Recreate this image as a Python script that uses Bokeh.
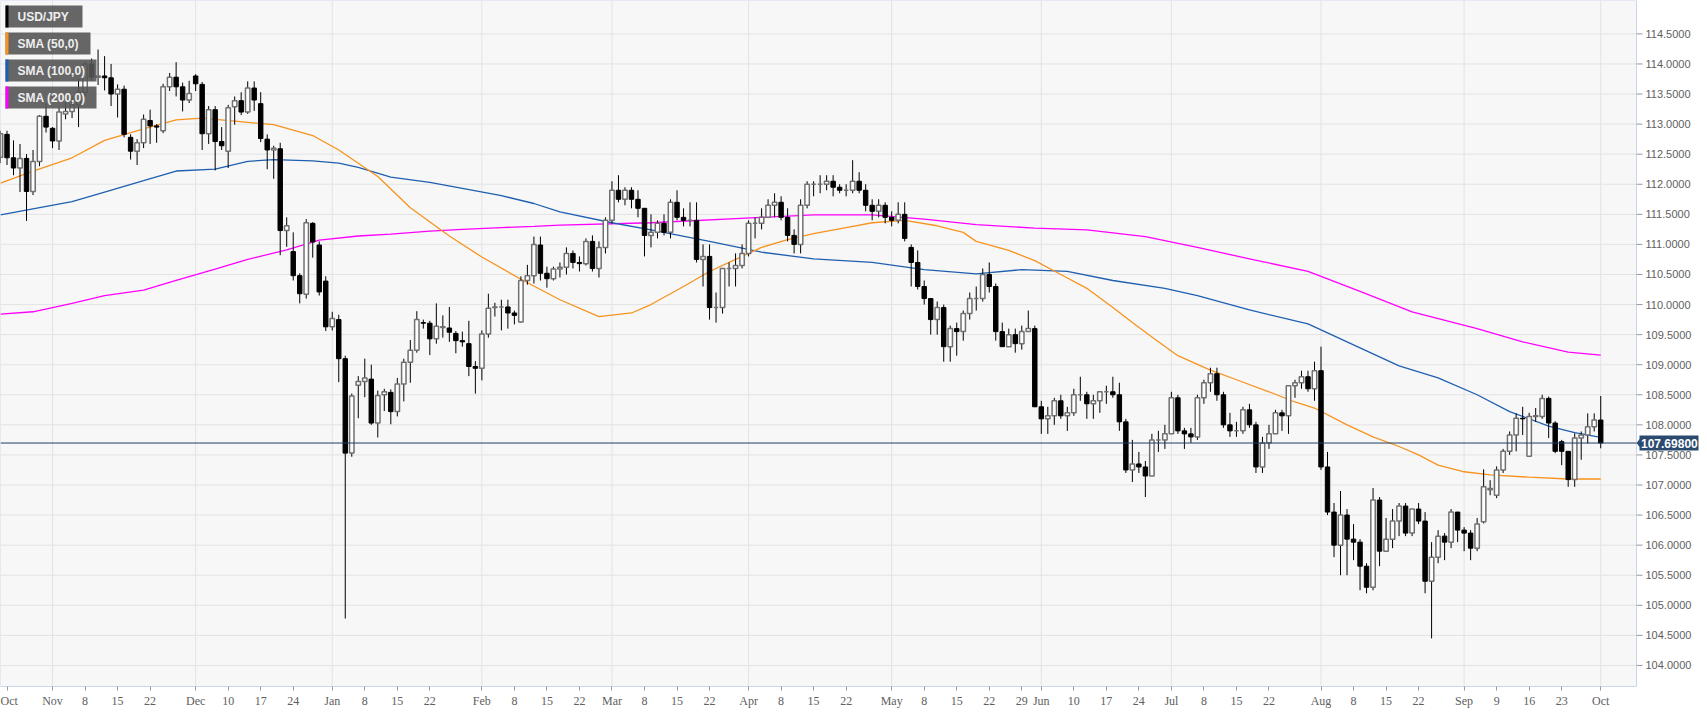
import pandas as pd
from bokeh.plotting import figure
from bokeh.models import ColumnDataSource, FixedTicker, BoxAnnotation, Label, Range1d
from bokeh.core.properties import value
from bokeh.embed import file_html
from bokeh.resources import INLINE

# ---------------- data ----------------
dates = pd.bdate_range("2018-10-22", "2019-10-01")

opens = [112.45,112.83,112.44,112.27,112.43,111.88,112.38,113.13,112.93,112.72,113.17,113.21,113.32,113.53,114.00,113.78,113.80,113.77,113.50,113.58,
112.78,112.55,112.69,113.06,112.97,112.89,113.62,113.78,113.62,113.40,113.80,113.66,112.84,113.24,112.71,112.55,113.29,113.39,113.20,113.60,
113.34,112.75,112.57,112.59,111.23,110.88,110.48,110.17,111.35,110.99,110.39,109.63,109.75,109.10,107.53,108.66,108.72,108.76,108.03,108.50,
108.54,108.22,108.68,109.04,109.24,109.70,109.69,109.43,109.62,109.61,109.52,109.40,109.35,108.97,108.94,109.51,109.95,109.96,109.96,109.86,
109.71,110.40,110.48,110.99,110.52,110.43,110.59,110.62,110.85,110.70,110.68,111.05,110.60,110.95,111.40,111.90,111.75,111.90,111.75,111.60,
111.15,111.20,111.35,111.20,111.70,111.45,111.40,111.40,110.75,110.80,109.95,109.95,110.60,110.60,110.65,110.85,111.35,111.35,111.45,111.65,
111.70,111.45,111.15,111.00,111.65,112.00,112.00,112.00,112.05,111.95,111.90,111.90,112.05,111.90,111.65,111.55,111.65,111.45,111.40,111.50,
110.95,110.70,110.30,110.10,109.75,109.95,109.30,109.60,109.55,109.85,110.10,110.10,110.50,110.30,109.55,109.30,109.50,109.35,109.55,109.60,
108.30,108.10,108.15,108.40,108.15,108.20,108.50,108.50,108.35,108.40,108.55,108.55,108.50,108.05,107.25,107.35,107.30,107.15,107.75,107.75,
107.85,108.45,107.90,107.85,107.80,108.45,108.70,108.85,108.50,108.00,107.90,107.90,108.25,108.00,107.30,107.70,107.85,108.20,108.15,108.65,
108.70,108.80,108.60,108.90,107.30,106.55,106.00,106.50,106.10,106.05,105.65,105.30,106.75,105.90,106.10,106.40,106.65,106.20,106.60,106.40,
105.40,105.80,106.15,106.05,106.55,106.25,106.20,105.95,106.39,106.92,106.83,107.25,107.56,107.83,108.11,107.48,108.14,108.14,108.44,108.03,
107.72,107.56,107.09,107.78,107.83,107.97,108.08]

highs = [112.89,112.89,112.73,112.67,112.50,112.57,113.15,113.34,112.95,113.27,113.37,113.46,113.75,114.04,114.09,114.24,114.13,114.00,113.66,113.64,
112.83,112.75,113.16,113.24,113.00,113.67,113.85,114.03,113.69,113.72,113.83,113.70,113.30,113.30,112.95,113.32,113.46,113.53,113.71,113.71,
113.53,112.83,112.64,112.69,111.45,111.20,110.52,111.42,111.37,111.05,110.47,109.88,109.83,109.15,108.52,108.81,109.10,109.00,108.57,108.60,
108.59,108.78,109.10,109.41,109.89,109.75,109.73,110.02,109.82,109.96,109.56,109.55,109.73,109.06,109.57,110.18,110.03,110.08,110.08,109.90,
110.47,110.66,111.13,111.13,110.63,110.63,110.70,110.95,110.90,110.80,111.10,111.15,111.05,111.45,112.05,112.15,111.95,111.95,111.90,111.60,
111.50,111.40,111.50,111.75,111.90,111.60,111.70,111.70,111.00,111.00,110.20,110.60,110.70,110.85,111.00,111.40,111.45,111.60,111.75,111.85,
111.80,111.60,111.25,111.75,112.05,112.05,112.15,112.15,112.15,112.00,112.00,112.40,112.20,112.00,111.75,111.75,111.70,111.55,111.70,111.70,
111.00,110.90,110.40,110.10,110.05,110.00,109.65,109.70,109.90,110.20,110.30,110.60,110.70,110.35,109.70,109.60,109.60,109.65,109.90,109.65,
108.40,108.30,108.45,108.50,108.30,108.60,108.80,108.55,108.50,108.55,108.65,108.80,108.70,108.10,107.75,107.55,107.40,107.85,107.90,108.00,
108.55,108.50,107.95,107.95,108.50,108.75,108.95,108.95,108.55,108.20,108.05,108.30,108.35,108.05,107.80,108.00,108.25,108.25,108.65,108.75,
108.90,108.90,109.05,109.30,107.55,106.70,106.90,106.60,106.35,106.10,105.70,106.95,106.80,106.45,106.60,106.70,106.70,106.60,106.70,106.55,
106.05,106.25,106.20,106.60,106.55,106.30,106.25,106.45,107.26,107.08,107.31,107.60,107.89,108.19,108.30,108.20,108.28,108.50,108.47,108.06,
107.75,107.56,107.86,107.89,108.19,108.19,108.48]

lows = [112.35,112.32,112.15,111.87,111.39,111.82,112.30,112.86,112.60,112.57,113.08,113.10,112.95,113.45,113.72,113.65,113.56,113.30,113.11,112.78,
112.41,112.32,112.60,112.67,112.69,112.85,113.55,113.46,113.21,113.35,113.55,112.57,112.67,112.23,112.57,112.27,112.99,113.15,113.17,113.22,
112.70,112.25,112.09,110.82,110.96,110.40,110.02,110.10,110.78,110.15,109.56,109.57,108.71,104.78,107.47,108.11,108.46,108.00,107.79,108.23,
108.01,108.14,108.39,108.70,109.20,109.60,109.16,109.35,109.45,109.38,109.19,109.30,108.81,108.52,108.74,109.45,109.80,109.57,109.60,109.67,
109.70,110.33,110.35,110.40,110.28,110.40,110.45,110.50,110.60,110.55,110.65,110.55,110.45,110.85,111.35,111.70,111.65,111.60,111.45,110.80,
110.95,111.10,111.15,111.10,111.40,111.30,111.30,110.70,110.30,109.75,109.70,109.85,110.30,110.30,110.60,110.80,111.10,111.25,111.45,111.45,
111.40,111.05,110.85,110.85,111.60,111.80,111.85,111.90,111.80,111.85,111.80,111.85,111.85,111.55,111.40,111.45,111.35,111.30,111.35,111.05,
110.30,110.25,110.00,109.50,109.50,109.05,109.05,109.15,109.40,109.75,109.90,110.05,110.20,109.40,109.30,109.30,109.20,109.25,109.55,108.30,
107.85,107.85,108.00,108.10,107.90,108.15,108.40,108.10,108.10,108.20,108.35,108.45,107.90,107.20,107.05,107.20,106.80,107.15,107.55,107.60,
107.85,107.85,107.60,107.70,107.75,108.35,108.55,108.40,107.95,107.80,107.80,107.85,107.95,107.20,107.20,107.60,107.85,107.90,107.85,108.45,
108.60,108.55,108.40,107.25,106.50,105.80,105.50,105.50,105.75,105.25,105.20,105.25,105.65,105.90,105.95,106.15,106.15,106.15,106.35,105.20,
104.45,105.70,105.75,105.95,106.05,105.90,105.75,105.90,106.36,106.83,106.78,107.20,107.50,107.56,107.83,107.47,108.05,108.10,107.78,107.53,
107.33,106.97,106.97,107.42,107.69,107.89,107.61]

closes = [112.84,112.44,112.27,112.43,111.88,112.38,113.13,112.95,112.72,113.20,113.21,113.32,113.53,114.00,113.78,113.80,113.77,113.50,113.58,112.83,
112.55,112.69,113.08,112.97,112.95,113.62,113.78,113.62,113.40,113.51,113.67,112.84,113.24,112.71,112.64,113.27,113.39,113.20,113.60,113.40,
112.76,112.57,112.60,111.23,111.31,110.48,110.18,111.36,111.04,110.21,109.63,109.77,109.10,107.53,108.48,108.72,108.78,108.03,108.49,108.55,
108.22,108.68,109.04,109.24,109.75,109.69,109.43,109.64,109.63,109.54,109.40,109.38,108.97,108.94,109.51,109.94,109.96,109.96,109.86,109.82,
110.40,110.48,111.00,110.52,110.43,110.59,110.62,110.85,110.70,110.68,111.05,110.60,110.95,111.40,111.90,111.75,111.90,111.75,111.60,111.15,
111.20,111.35,111.20,111.70,111.45,111.40,111.40,110.75,110.80,109.95,109.95,110.60,110.60,110.65,110.85,111.35,111.35,111.45,111.65,111.70,
111.45,111.15,111.00,111.65,112.00,112.00,112.00,112.05,111.95,111.90,111.90,112.05,111.90,111.65,111.55,111.65,111.45,111.40,111.50,111.10,
110.70,110.30,110.10,109.75,109.95,109.30,109.60,109.55,109.85,110.10,110.10,110.50,110.30,109.55,109.30,109.50,109.35,109.55,109.60,108.30,
108.10,108.15,108.40,108.15,108.20,108.50,108.50,108.35,108.40,108.55,108.55,108.50,108.05,107.25,107.35,107.30,107.15,107.75,107.75,107.85,
108.45,107.90,107.85,107.80,108.45,108.70,108.85,108.50,108.00,107.90,107.90,108.25,108.00,107.30,107.70,107.85,108.20,108.15,108.65,108.70,
108.80,108.60,108.90,107.30,106.55,106.00,106.50,106.10,106.05,105.65,105.30,106.75,105.90,106.10,106.40,106.65,106.20,106.60,106.40,105.40,
105.80,106.15,106.05,106.55,106.25,106.20,105.95,106.35,106.97,106.94,107.25,107.56,107.83,108.11,108.10,108.14,108.15,108.44,108.03,107.56,
107.56,107.09,107.78,107.83,107.97,108.08,107.698]

sma50_idx = [0,5,11,16,22,27,31,36,42,48,52,58,63,69,74,80,86,92,97,100,105,109,113,117,121,125,130,134,139,144,148,150,155,159,163,167,171,174,177,181,186,190,195,199,202,207,211,215,218,221,225,229,235,241,246]
sma50_val = [112.02,112.22,112.44,112.73,112.92,113.07,113.10,113.05,112.99,112.81,112.57,112.13,111.61,111.14,110.79,110.42,110.08,109.80,109.86,110.00,110.30,110.55,110.75,110.95,111.08,111.18,111.28,111.36,111.40,111.31,111.20,111.05,110.90,110.73,110.50,110.27,109.95,109.70,109.46,109.15,108.91,108.75,108.55,108.38,108.28,108.00,107.80,107.64,107.50,107.33,107.22,107.17,107.13,107.10,107.10]

sma100_idx = [0,11,16,22,27,33,38,42,48,52,55,60,66,71,77,82,86,94,100,109,117,125,134,142,150,157,164,171,179,184,192,201,209,215,221,227,232,238,242,246]
sma100_val = [111.49,111.71,111.87,112.06,112.22,112.25,112.38,112.41,112.39,112.35,112.28,112.12,112.03,111.93,111.81,111.68,111.54,111.36,111.24,111.05,110.87,110.76,110.70,110.58,110.51,110.58,110.55,110.40,110.27,110.15,109.91,109.68,109.28,108.98,108.78,108.50,108.22,107.98,107.87,107.79]

sma200_idx = [0,5,11,16,22,27,33,38,44,49,55,60,66,71,77,82,86,100,117,125,134,142,150,159,167,176,184,192,201,209,217,227,234,241,246]
sma200_val = [109.84,109.88,110.02,110.15,110.24,110.40,110.59,110.75,110.91,111.07,111.14,111.17,111.22,111.25,111.28,111.30,111.32,111.36,111.45,111.49,111.49,111.42,111.33,111.27,111.24,111.13,110.95,110.76,110.55,110.22,109.88,109.60,109.38,109.21,109.16]

last_price = 107.698

tick_dates = ["2018-10-23","2018-11-01","2018-11-08","2018-11-15","2018-11-22","2018-12-03","2018-12-10","2018-12-17","2018-12-24",
              "2019-01-01","2019-01-08","2019-01-15","2019-01-22","2019-02-01","2019-02-08","2019-02-15","2019-02-22",
              "2019-03-01","2019-03-08","2019-03-15","2019-03-22","2019-04-01","2019-04-08","2019-04-15","2019-04-22",
              "2019-05-01","2019-05-08","2019-05-15","2019-05-22","2019-05-29","2019-06-03","2019-06-10","2019-06-17","2019-06-24",
              "2019-07-01","2019-07-08","2019-07-15","2019-07-22","2019-08-01","2019-08-08","2019-08-15","2019-08-22",
              "2019-09-02","2019-09-09","2019-09-16","2019-09-23","2019-10-01"]
tick_labels = ["Oct","Nov","8","15","22","Dec","10","17","24","Jan","8","15","22","Feb","8","15","22","Mar","8","15","22",
               "Apr","8","15","22","May","8","15","22","29","Jun","10","17","24","Jul","8","15","22","Aug","8","15","22",
               "Sep","9","16","23","Oct"]
month_dates = ["2018-11-01","2018-12-03","2019-01-01","2019-02-01","2019-03-01","2019-04-01","2019-05-01","2019-06-03",
               "2019-07-01","2019-08-01","2019-09-02","2019-10-01"]
y_ticks = [104.0,104.5,105.0,105.5,106.0,106.5,107.0,107.5,108.0,108.5,109.0,109.5,110.0,110.5,111.0,111.5,112.0,112.5,113.0,113.5,114.0,114.5]

legend_names = ["USD/JPY", "SMA (50,0)", "SMA (100,0)", "SMA (200,0)"]
legend_colors = ["#000000", "#f7931e", "#1f5fb0", "#ff00ff"]

# ---------------- build ----------------
n = len(dates)
assert len(opens) == len(highs) == len(lows) == len(closes) == n
pos = {d.strftime("%Y-%m-%d"): i for i, d in enumerate(dates)}
idx = list(range(n))

up = [c >= o for o, c in zip(opens, closes)]
src_up = ColumnDataSource(dict(
    x=[i for i in idx if up[i]],
    top=[max(opens[i], closes[i]) for i in idx if up[i]],
    bottom=[min(opens[i], closes[i]) for i in idx if up[i]]))
src_dn = ColumnDataSource(dict(
    x=[i for i in idx if not up[i]],
    top=[max(opens[i], closes[i]) for i in idx if not up[i]],
    bottom=[min(opens[i], closes[i]) for i in idx if not up[i]]))
src_wick = ColumnDataSource(dict(x=idx, high=highs, low=lows))

# geometry: the plot area is PW px wide inside a frame that also holds the price scale
PW, FW, FH = 1636, 1707, 686
x0, xe = 0.0, 251.5            # visible index range of the plot area
sx = PW / (xe - x0)            # px per index
x1 = x0 + FW / sx
y0, y1 = 103.65, 115.055
sy = FH / (y1 - y0)            # px per price unit

p = figure(frame_width=FW, frame_height=FH, output_backend="svg", toolbar_location=None,
           x_range=Range1d(x0, x1), y_range=Range1d(y0, y1), y_axis_location=None,
           min_border_left=0, min_border_top=0, min_border_right=0, min_border_bottom=26)
p.background_fill_color = "#ffffff"
p.border_fill_color = "#ffffff"
p.outline_line_color = None
p.xgrid.visible = False
p.ygrid.visible = False

# plot area background + border
p.quad(left=[x0], right=[xe], bottom=[y0], top=[y1], fill_color="#f7f7f7",
       line_color="#ccd6eb", line_width=1)

# grid lines
mx = [pos[d] for d in month_dates]
p.segment(x0=mx, x1=mx, y0=[y0] * len(mx), y1=[y1] * len(mx), line_color="#e3e3e3", line_width=1)
p.segment(x0=[x0] * len(y_ticks), x1=[xe] * len(y_ticks), y0=y_ticks, y1=y_ticks,
          line_color="#e3e3e3", line_width=1)

# x axis
p.xaxis.bounds = (x0, xe)
p.xaxis.ticker = FixedTicker(ticks=[pos[d] for d in tick_dates])
p.xaxis.major_label_overrides = {pos[d]: l for d, l in zip(tick_dates, tick_labels)}
ax = p.xaxis[0]
ax.axis_line_color = "#ccd6eb"
ax.major_tick_line_color = "#999999"
ax.major_tick_out = 4
ax.major_tick_in = 0
ax.minor_tick_line_color = None
ax.major_label_text_color = "#606060"
ax.major_label_text_font = "Liberation Sans Narrow"
ax.major_label_text_font_size = "12px"
ax.major_label_standoff = 3

# price scale on the right
p.segment(x0=[xe] * len(y_ticks), x1=[xe + 6 / sx] * len(y_ticks), y0=y_ticks, y1=y_ticks,
          line_color="#999999", line_width=1)
p.text(x=[xe + 9 / sx] * len(y_ticks), y=y_ticks, text=["%.4f" % v for v in y_ticks],
       text_font=value("Liberation Sans"), text_font_size="11px", text_color="#606060",
       text_baseline="middle", text_align="left")

# SMA lines
p.line(sma200_idx, sma200_val, line_color="#ff00ff", line_width=1.3)
p.line(sma100_idx, sma100_val, line_color="#1f5fb0", line_width=1.3)
p.line(sma50_idx, sma50_val, line_color="#f7931e", line_width=1.3)

# candles
p.segment(x0="x", y0="high", x1="x", y1="low", source=src_wick, line_color="#000000", line_width=1)
p.vbar(x="x", top="top", bottom="bottom", width=0.68, source=src_up,
       fill_color="#ffffff", line_color="#707070", line_width=1.5)
p.vbar(x="x", top="top", bottom="bottom", width=0.68, source=src_dn,
       fill_color="#000000", line_color="#000000", line_width=1)

# last price line and tag
p.segment(x0=[x0], x1=[xe], y0=[last_price], y1=[last_price], line_color="#1f3d66", line_width=1)
p.patch(x=[xe, xe + 4 / sx, xe + 4 / sx], y=[last_price, last_price + 5 / sy, last_price - 5 / sy],
        fill_color="#2b4a70", line_color=None)
p.quad(left=[xe + 3 / sx], right=[xe + 62 / sx], bottom=[last_price - 7.5 / sy], top=[last_price + 7.5 / sy],
       fill_color="#2b4a70", line_color=None)
p.text(x=[xe + 4.5 / sx], y=[last_price], text=["%.5f" % last_price], text_font=value("Liberation Sans"),
       text_font_size="12px", text_font_style="bold", text_color="#ffffff",
       text_baseline="middle", text_align="left")

# legend boxes (pixel offsets from the frame's top-left converted to data units)
def px_x(px):
    return x0 + px / sx

def px_y(py):
    return y1 - py / sy

box_w = [77, 85, 91, 91]
for k, (name, col) in enumerate(zip(legend_names, legend_colors)):
    top = 5 + 27 * k
    p.add_layout(BoxAnnotation(left=px_x(5), right=px_x(5 + box_w[k]), top=px_y(top), bottom=px_y(top + 22),
                               fill_color="#555555", fill_alpha=0.9, line_color=None, level="overlay"))
    p.add_layout(BoxAnnotation(left=px_x(5), right=px_x(8), top=px_y(top), bottom=px_y(top + 22),
                               fill_color=col, fill_alpha=1.0, line_color=None, level="overlay"))
    p.add_layout(Label(x=px_x(17), y=px_y(top + 11), text=name, text_font="Liberation Sans",
                       text_font_size="12px", text_font_style="bold", text_color="#eeeeee",
                       text_baseline="middle", level="overlay"))

open("out.html", "w").write(file_html(p, INLINE))
